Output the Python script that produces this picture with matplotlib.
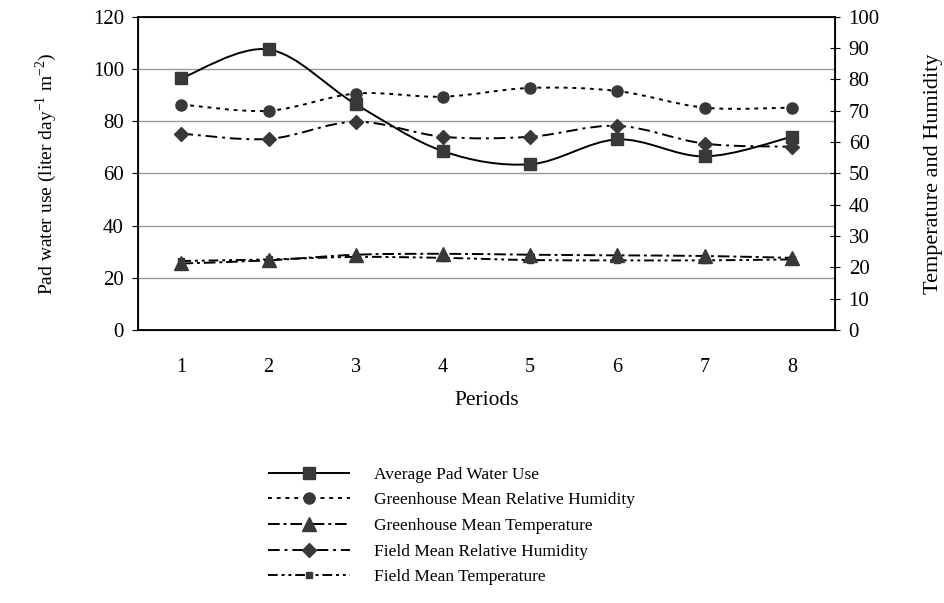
import numpy as np
import matplotlib
matplotlib.use("Agg")
import matplotlib.pyplot as plt
from matplotlib.path import Path
from matplotlib.patches import PathPatch
from matplotlib.lines import Line2D

plt.rcParams["font.family"] = ["Liberation Serif", "DejaVu Serif"]
plt.rcParams["mathtext.fontset"] = "custom"
plt.rcParams["mathtext.rm"] = "Liberation Serif"

# Data
periods = [1, 2, 3, 4, 5, 6, 7, 8]
pad_water = [96.5, 107.5, 86.5, 68.5, 63.5, 73, 66.5, 74]          # left axis
gh_rh = [72, 70, 75.5, 74.5, 77.3, 76.3, 71, 71]                   # right axis
gh_temp = [21.2, 22.2, 24, 24.3, 24, 23.8, 23.6, 23]
field_rh = [62.7, 61, 66.5, 61.7, 61.7, 65.2, 59.5, 58.5]
field_temp = [22, 22.5, 23.3, 23, 22.3, 22.2, 22.2, 22.5]

labels = ["Average Pad Water Use",
          "Greenhouse Mean Relative Humidity",
          "Greenhouse Mean Temperature",
          "Field Mean Relative Humidity",
          "Field Mean Temperature"]

mk_col = "#383838"


def smooth_path(x, y):
    # Bezier segments through every point (like a spreadsheet "smoothed line")
    x = np.asarray(x, float)
    y = np.asarray(y, float)
    verts = [(x[0], y[0])]
    codes = [Path.MOVETO]
    n = len(x)
    for i in range(n - 1):
        x0, y0 = (x[i - 1], y[i - 1]) if i > 0 else (x[i], y[i])
        x3, y3 = (x[i + 2], y[i + 2]) if i + 2 < n else (x[i + 1], y[i + 1])
        c1 = (x[i] + (x[i + 1] - x0) / 6.0, y[i] + (y[i + 1] - y0) / 6.0)
        c2 = (x[i + 1] - (x3 - x[i]) / 6.0, y[i + 1] - (y3 - y[i]) / 6.0)
        verts += [c1, c2, (x[i + 1], y[i + 1])]
        codes += [Path.CURVE4] * 3
    return Path(verts, codes)


fig = plt.figure(figsize=(9.44, 6.03), dpi=100)
ax = fig.add_axes([0.146, 0.453, 0.739, 0.519])
ax2 = ax.twinx()

ax.set_xlim(0.5, 8.5)
ax.set_ylim(0, 120)
ax.set_yticks(range(0, 121, 20))
ax2.set_ylim(0, 100)
ax2.set_yticks(range(0, 101, 10))
ax.set_xticks(periods)
ax.tick_params(axis="x", length=0, labelsize=14.5, pad=20)
ax.tick_params(axis="y", direction="out", length=4, labelsize=15, pad=6)
ax2.tick_params(axis="y", direction="inout", length=7, labelsize=15, pad=6)

for y in range(20, 101, 20):
    ax.axhline(y, color="#9a9a9a", lw=1.0, zorder=0)

for sp in ["left", "right", "top", "bottom"]:
    ax.spines[sp].set_color("black")
    ax2.spines[sp].set_color("black")
    ax2.spines[sp].set_linewidth(1.3)

series = [
    (ax, pad_water, (0, ()), "s", 8.5),
    (ax2, gh_rh, (0, (2, 2.5)), "o", 8),
    (ax2, gh_temp, (0, (6, 2, 1.5, 2)), "^", 10),
    (ax2, field_rh, (0, (6, 2.5, 1.5, 2.5)), "D", 7),
    (ax2, field_temp, (0, (5, 2, 1.5, 2, 1.5, 2)), "s", 5),
]

handles = []
for a, vals, ls, mk, ms in series:
    patch = PathPatch(smooth_path(periods, vals), fill=False, edgecolor="black",
                      lw=1.4, linestyle=ls, transform=a.transData, zorder=3)
    a.add_patch(patch)
    a.plot(periods, vals, linestyle="none", marker=mk, markersize=ms,
           color=mk_col, markeredgecolor=mk_col, zorder=4)
    handles.append(Line2D([], [], color="black", lw=1.4, linestyle=ls,
                          marker=mk, markersize=ms, markerfacecolor=mk_col,
                          markeredgecolor=mk_col))

ax.set_xlabel("Periods", fontsize=15.5, labelpad=10)
ax.set_ylabel("Pad water use (liter day$^{-1}$ m$^{-2}$)", fontsize=14, labelpad=24)
ax2.set_ylabel("Temperature and Humidity", fontsize=16, labelpad=32)

fig.legend(handles, labels, loc="upper left", bbox_to_anchor=(0.2765, 0.238),
           frameon=False, fontsize=12.5, handlelength=4.7, labelspacing=0.55,
           handletextpad=1.4, borderaxespad=0)

fig.savefig("out.png", dpi=100)
